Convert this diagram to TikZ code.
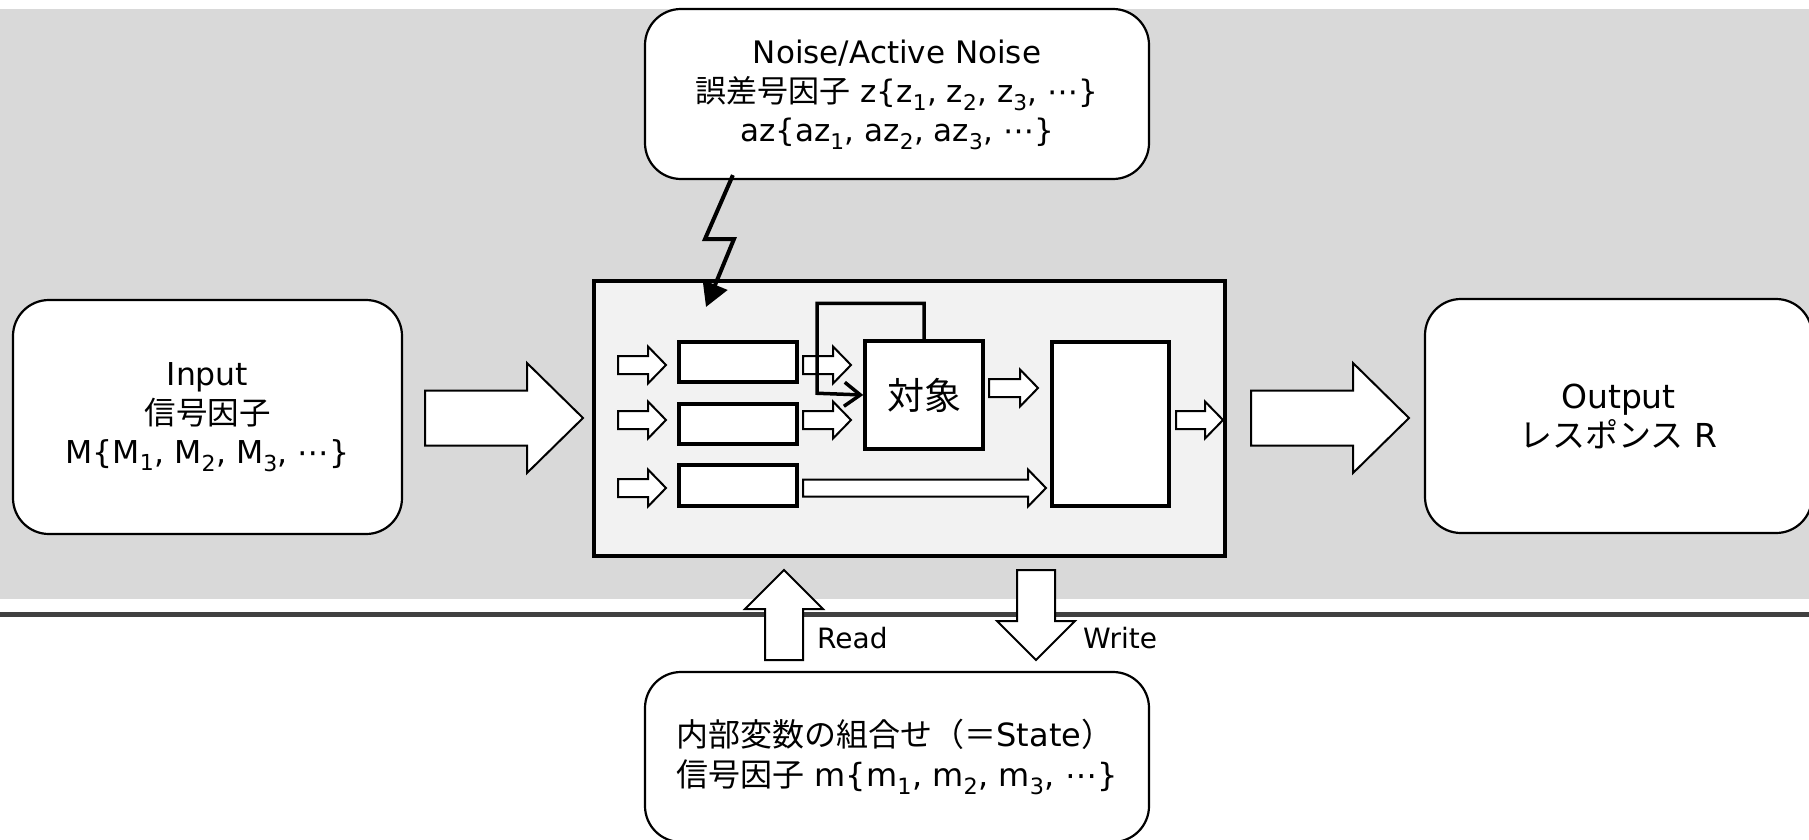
\documentclass[tikz,border=0pt]{standalone}
\usepackage{fontspec}
\setmainfont{DejaVu Sans}
\newfontfamily\jp{Noto Sans CJK JP}
\usetikzlibrary{arrows.meta}
\definecolor{bggray}{HTML}{D9D9D9}
\definecolor{innergray}{HTML}{F2F2F2}
\definecolor{rulegray}{HTML}{404040}
\newcommand\cdotsx{\textup{⋯}}
\tikzset{
  pics/blockarrow/.style n args={4}{code={
    \draw[arrowline] (0,-#2) -- (#1-#4,-#2) -- (#1-#4,-#3) -- (#1,0)
      -- (#1-#4,#3) -- (#1-#4,#2) -- (0,#2) -- cycle;}}
}
\begin{document}
\begin{tikzpicture}[x=1pt,y=-1pt,
  roundbox/.style={draw=black,fill=white,line width=2.2pt,rounded corners=36pt,align=center,inner sep=0pt},
  innerbox/.style={draw=black,fill=white,line width=3.5pt,inner sep=0pt},
  arrowline/.style={draw=black,fill=white,line width=2pt,line join=miter},
  bigtext/.style={font=\fontsize{31.5}{39}\selectfont}]
\useasboundingbox (0,0) rectangle (1809,840);

% background bands:
\fill[bggray] (0,9) rectangle (1809,599);
\draw[rulegray,line width=5pt] (0,614.5) -- (1809,614.5);

% outer boxes:
\node[roundbox,minimum width=504pt,minimum height=170pt] (noise) at (897,94) {};
\node[align=center,inner sep=0pt,font=\fontsize{31}{39}\selectfont] (noisetxt) at (897,95)
  {Noise/Active Noise\\{\jp 誤差号因子} z\{z\textsubscript{1}, z\textsubscript{2}, z\textsubscript{3}, \cdotsx\}\\az\{az\textsubscript{1}, az\textsubscript{2}, az\textsubscript{3}, \cdotsx\}};
\node[roundbox,minimum width=389pt,minimum height=234pt,bigtext] (input) at (207.5,417)
  {Input\\{\jp 信号因子}\\M\{M\textsubscript{1}, M\textsubscript{2}, M\textsubscript{3}, \cdotsx\}};
\node[roundbox,minimum width=387pt,minimum height=234pt,font=\fontsize{33}{39}\selectfont] (output) at (1618.5,416)
  {Output\\{\jp レスポンス} R};
\node[roundbox,minimum width=504pt,minimum height=170pt,font=\fontsize{32}{40}\selectfont,align=left] (state) at (897,757)
  {{\jp 内部変数の組合せ（＝}State{\jp ）}\\{\jp 信号因子} m\{m\textsubscript{1}, m\textsubscript{2}, m\textsubscript{3}, \cdotsx\}};

% system box:
\node[draw=black,fill=innergray,line width=4.5pt,minimum width=631pt,minimum height=275pt,inner sep=0pt] (system) at (909.5,418.5) {};
\node[innerbox,minimum width=118pt,minimum height=40pt] (stage1) at (738,362) {};
\node[innerbox,minimum width=118pt,minimum height=40pt] (stage2) at (738,424) {};
\node[innerbox,minimum width=118pt,minimum height=41pt] (stage3) at (738,485.5) {};
\node[innerbox,minimum width=118pt,minimum height=108pt,font=\fontsize{37}{40}\selectfont\jp] (target) at (924,395) {対象};
\node[innerbox,minimum width=117pt,minimum height=164pt] (merge) at (1110.5,424) {};

% block arrows:
\pic at (425,418) {blockarrow={158}{27.5}{55}{56}};
\pic at (1251,418) {blockarrow={158}{27.5}{55}{56}};
\pic at (618,365) {blockarrow={48}{9}{18.5}{18}};
\pic at (618,420) {blockarrow={48}{9}{18.5}{18}};
\pic at (618,488) {blockarrow={48}{9}{18.5}{18}};
\pic at (803,365) {blockarrow={48}{9}{18.5}{18}};
\pic at (803,420) {blockarrow={48}{9}{18.5}{18}};
\pic at (803,488) {blockarrow={243}{8.5}{18.5}{18}};
\pic at (989,388) {blockarrow={49}{9}{18.5}{18}};
\pic at (1176,420) {blockarrow={47}{9}{18.5}{18}};
\pic[rotate=90] at (784,660) {blockarrow={90}{19}{39}{39}};
\pic[rotate=-90] at (1036,570) {blockarrow={90}{19}{39}{39}};

% feedback and noise:
\draw[line width=3.5pt,-{Straight Barb[length=16pt,width=24pt]}] (target.north) -- ++(0,-36) -| ++(-107,90) -- (target.west);
\draw[line width=4pt,line join=miter,-{Triangle[length=24pt,width=26pt]}] (noise.south west) ++(89,-5) -- (705,239) -- (734,239) -- (706,307);

% labels:
\node[anchor=base west,inner sep=0pt,font=\fontsize{28}{34}\selectfont] (readlbl) at (817,648) {Read};
\node[anchor=base west,inner sep=0pt,font=\fontsize{28}{34}\selectfont] (writelbl) at (1083,648) {Write};

\end{tikzpicture}
\end{document}
